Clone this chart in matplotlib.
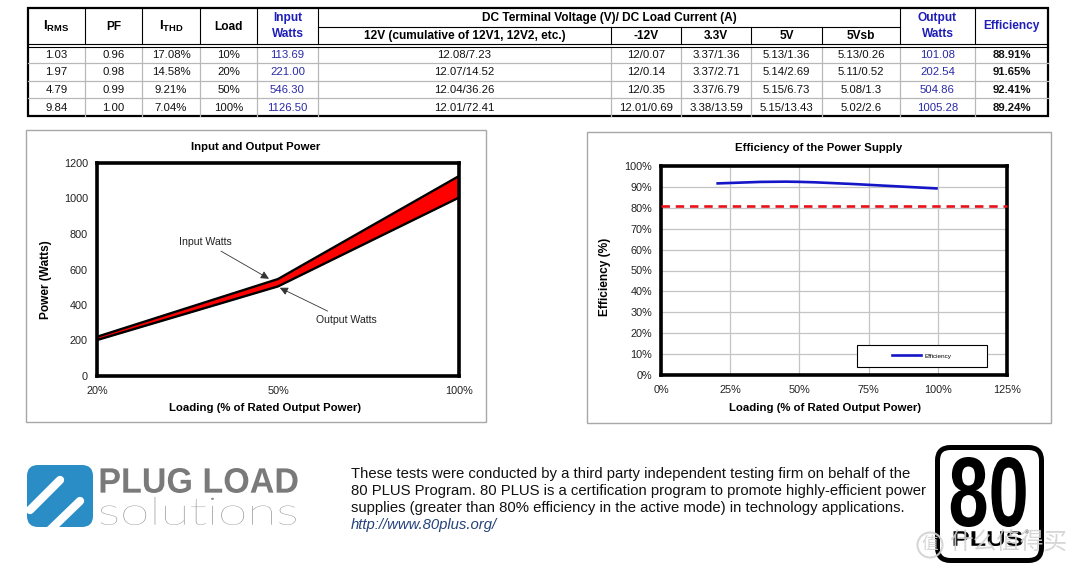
import matplotlib
matplotlib.use('Agg')
import numpy as np
import matplotlib.pyplot as plt
from matplotlib import font_manager as fm
from matplotlib.patches import Rectangle, FancyBboxPatch, PathPatch, Circle
from matplotlib.path import Path
from matplotlib.textpath import TextPath
from matplotlib.lines import Line2D
from matplotlib.patheffects import AbstractPathEffect
from matplotlib.transforms import Affine2D

plt.rcParams['font.family'] = ['Liberation Sans', 'Noto Sans CJK SC', 'DejaVu Sans']
plt.rcParams['mathtext.fontset'] = 'custom'
plt.rcParams['mathtext.rm'] = 'Liberation Sans'
plt.rcParams['mathtext.bf'] = 'Liberation Sans:bold'

# table data
irms = ["1.03", "1.97", "4.79", "9.84"]
pf = ["0.96", "0.98", "0.99", "1.00"]
ithd = ["17.08%", "14.58%", "9.21%", "7.04%"]
load = ["10%", "20%", "50%", "100%"]
input_watts = [113.69, 221.00, 546.30, 1126.50]
v12 = ["12.08/7.23", "12.07/14.52", "12.04/36.26", "12.01/72.41"]
vneg12 = ["12/0.07", "12/0.14", "12/0.35", "12.01/0.69"]
v33 = ["3.37/1.36", "3.37/2.71", "3.37/6.79", "3.38/13.59"]
v5 = ["5.13/1.36", "5.14/2.69", "5.15/6.73", "5.15/13.43"]
v5sb = ["5.13/0.26", "5.11/0.52", "5.08/1.3", "5.02/2.6"]
output_watts = [101.08, 202.54, 504.86, 1005.28]
efficiency = [88.91, 91.65, 92.41, 89.24]

# chart data
chart_loads = ["20%", "50%", "100%"]
chart_input = [221.00, 546.30, 1126.50]
chart_output = [202.54, 504.86, 1005.28]
eff_load = [0.20, 0.50, 1.00]
eff_value = [0.9165, 0.9241, 0.8924]
eff_target = 0.81

note_lines = [
    "These tests were conducted by a third party independent testing firm on behalf of the",
    "80 PLUS Program. 80 PLUS is a certification program to promote highly-efficient power",
    "supplies (greater than 80% efficiency in the active mode) in technology applications.",
]
note_link = "http://www.80plus.org/"

W, H = 1080, 574
fig = plt.figure(figsize=(W / 100, H / 100), dpi=100)
bg = fig.add_axes([0, 0, 1, 1])
bg.set_xlim(0, W)
bg.set_ylim(H, 0)
bg.axis('off')


class Stretch(AbstractPathEffect):
    # horizontal squeeze/stretch of a text around a display x position
    def __init__(self, sx, cx):
        super().__init__()
        self.sx, self.cx = sx, cx

    def draw_path(self, renderer, gc, tpath, affine, rgbFace=None):
        a = affine + Affine2D().translate(-self.cx, 0).scale(self.sx, 1).translate(self.cx, 0)
        renderer.draw_path(gc, tpath, a, rgbFace)


def fit_text(s, x0, y0, x1, y1, prop, **kw):
    # text whose ink fills the pixel box (y0 top, y1 bottom)
    ext = TextPath((0, 0), s, size=1, prop=prop).get_extents()
    k = 100 / 72
    size = (y1 - y0) / (ext.height * k)
    sx = (x1 - x0) / (ext.width * size * k)
    base = y1 + ext.y0 * size * k
    xc = (x0 + x1) / 2
    dx = bg.transData.transform((xc, base))[0]
    bg.text(xc, base, s, fontproperties=prop, fontsize=size, ha='center', va='baseline',
            path_effects=[Stretch(sx, dx)], **kw)


# ---------------- table ----------------
cols = [28, 85, 142, 200, 257, 318, 611, 681, 751, 822, 900, 975, 1048]
top, mid, hbot, bottom = 8, 27, 45.5, 116
row_h = (bottom - hbot) / 4
blue_h = '#1e1eb8'
blue_d = '#2a2aa8'

# data grid
for x in cols[1:-1]:
    bg.plot([x, x], [hbot + 1.5, bottom], color='#b8b8b8', lw=0.9)
for k in range(1, 4):
    y = hbot + k * row_h
    bg.plot([cols[0], cols[-1]], [y, y], color='#b8b8b8', lw=0.9)
# header grid
for i, x in enumerate(cols[1:-1], start=1):
    y_start = mid if 6 <= i <= 9 else top
    bg.plot([x, x], [y_start, hbot - 1.5], color='black', lw=0.8)
bg.plot([cols[5], cols[10]], [mid, mid], color='black', lw=0.8)
bg.plot([cols[0], cols[-1]], [hbot - 1.5, hbot - 1.5], color='black', lw=0.8)
bg.plot([cols[0], cols[-1]], [hbot + 1.5, hbot + 1.5], color='black', lw=0.8)
bg.add_patch(Rectangle((cols[0], top), cols[-1] - cols[0], bottom - top,
                       fill=False, edgecolor='black', lw=1.6))


def cx(i):
    return (cols[i] + cols[i + 1]) / 2


hfs = 8.6
hc = (top + hbot) / 2
bg.text(cx(0), hc, r'$\mathbf{I}_{\mathbf{RMS}}$', fontsize=hfs + 1, ha='center', va='center')
bg.text(cx(1), hc, 'PF', fontsize=hfs, weight='bold', ha='center', va='center')
bg.text(cx(2), hc, r'$\mathbf{I}_{\mathbf{THD}}$', fontsize=hfs + 1, ha='center', va='center')
bg.text(cx(3), hc, 'Load', fontsize=hfs, weight='bold', ha='center', va='center')
bg.text(cx(4), 18.5, 'Input', fontsize=hfs, weight='bold', color=blue_h, ha='center', va='center')
bg.text(cx(4), 34, 'Watts', fontsize=hfs, weight='bold', color=blue_h, ha='center', va='center')
bg.text((cols[5] + cols[10]) / 2, 18, 'DC Terminal Voltage (V)/ DC Load Current (A)',
        fontsize=hfs, weight='bold', ha='center', va='center')
for i, s in zip(range(5, 10), ['12V (cumulative of 12V1, 12V2, etc.)', '-12V', '3.3V', '5V', '5Vsb']):
    bg.text(cx(i), 36, s, fontsize=hfs, weight='bold', ha='center', va='center')
bg.text(cx(10), 18.5, 'Output', fontsize=hfs, weight='bold', color=blue_h, ha='center', va='center')
bg.text(cx(10), 34, 'Watts', fontsize=hfs, weight='bold', color=blue_h, ha='center', va='center')
bg.text(cx(11), 26, 'Efficiency', fontsize=hfs, weight='bold', color=blue_h, ha='center', va='center')

dfs = 8.2
for r in range(4):
    y = hbot + (r + 0.5) * row_h + 0.5
    cells = [irms[r], pf[r], ithd[r], load[r], f"{input_watts[r]:.2f}", v12[r], vneg12[r],
             v33[r], v5[r], v5sb[r], f"{output_watts[r]:.2f}", f"{efficiency[r]:.2f}%"]
    for i, s in enumerate(cells):
        color = blue_d if i in (4, 10) else '#111111'
        weight = 'bold' if i == 11 else 'normal'
        bg.text(cx(i), y, s, fontsize=dfs, color=color, weight=weight, ha='center', va='center')

# ---------------- panel frames ----------------
bg.add_patch(Rectangle((26, 130), 460, 292, fill=False, edgecolor='#a8a8a8', lw=1))
bg.add_patch(Rectangle((587, 132), 464, 291, fill=False, edgecolor='#a8a8a8', lw=1))

# ---------------- left chart ----------------
ax1 = fig.add_axes([97 / W, 1 - 376 / H, (459 - 97) / W, (376 - 163) / H])
xs = np.arange(len(chart_loads))
ax1.fill_between(xs, chart_output, chart_input, color='#ff0000', lw=0)
ax1.plot(xs, chart_input, color='black', lw=1.7)
ax1.plot(xs, chart_output, color='black', lw=1.7)
ax1.set_xlim(0, len(chart_loads) - 1)
ax1.set_ylim(0, 1200)
ax1.set_xticks(xs)
ax1.set_xticklabels(chart_loads)
ax1.set_yticks(range(0, 1201, 200))
for s in ax1.spines.values():
    s.set_linewidth(2.6)
ax1.tick_params(axis='both', length=0, labelsize=7.8, colors='#222222')
ax1.tick_params(axis='y', pad=6.5)
ax1.tick_params(axis='x', pad=7.5)
arrow = dict(arrowstyle='-|>', color='#333333', lw=0.6, mutation_scale=12, shrinkA=2, shrinkB=0)
ax1.annotate('Input Watts', xy=(0.95, 548), xytext=(0.597, 755), fontsize=7.6, color='#222222',
             ha='center', va='center', arrowprops=arrow)
ax1.annotate('Output Watts', xy=(1.01, 497), xytext=(1.376, 315), fontsize=7.6, color='#222222',
             ha='center', va='center', arrowprops=arrow)

bg.text(256, 147, 'Input and Output Power', fontsize=8.2, weight='bold', ha='center', va='center')
bg.text(265, 408, 'Loading (% of Rated Output Power)', fontsize=8.2, weight='bold', ha='center', va='center')
bg.text(46, 280, 'Power (Watts)', fontsize=8.6, weight='bold', rotation=90, ha='center', va='center')

# ---------------- right chart ----------------
ax2 = fig.add_axes([661 / W, 1 - 375 / H, (1007 - 661) / W, (375 - 166) / H])
ax2.set_xlim(0, 1.25)
ax2.set_ylim(0, 1)
ax2.set_xticks(np.arange(0, 1.26, 0.25))
ax2.set_xticklabels([f"{int(round(v * 100))}%" for v in np.arange(0, 1.26, 0.25)])
ax2.set_yticks(np.arange(0, 1.01, 0.1))
ax2.set_yticklabels([f"{int(round(v * 100))}%" for v in np.arange(0, 1.01, 0.1)])
ax2.grid(True, color='#c4c4c4', lw=0.9)
ax2.set_axisbelow(True)
for s in ax2.spines.values():
    s.set_linewidth(2.6)
ax2.tick_params(axis='both', length=0, labelsize=7.8, colors='#222222')
ax2.tick_params(axis='y', pad=6.5)
ax2.tick_params(axis='x', pad=7.5)

# smoothed efficiency curve (bezier through the measured points)
pts = list(zip(eff_load, eff_value))
verts, codes = [pts[0]], [Path.MOVETO]
n = len(pts)
for i in range(n - 1):
    p0, p1, p2, p3 = pts[max(i - 1, 0)], pts[i], pts[i + 1], pts[min(i + 2, n - 1)]
    c1 = (p1[0] + (p2[0] - p0[0]) / 6, p1[1] + (p2[1] - p0[1]) / 6)
    c2 = (p2[0] - (p3[0] - p1[0]) / 6, p2[1] - (p3[1] - p1[1]) / 6)
    verts += [c1, c2, p2]
    codes += [Path.CURVE4] * 3
ax2.add_patch(PathPatch(Path(verts, codes), fill=False, edgecolor='#1515c8', lw=1.9, zorder=3))
ax2.axhline(eff_target, color='#e8101a', lw=1.9, dashes=(3.2, 2.2), zorder=3, clip_on=False)

ax2.add_patch(Rectangle((0.566, 0.038), 0.376, 0.106, transform=ax2.transAxes,
                        facecolor='white', edgecolor='black', lw=0.8, zorder=4))
ax2.legend([Line2D([], [], color='#1515c8', lw=1.9)], ['Efficiency'], loc='center',
           bbox_to_anchor=(0.754, 0.091), frameon=False, fontsize=4.6, handlelength=4.5,
           handletextpad=0.5).set_zorder(5)

bg.text(819, 148, 'Efficiency of the Power Supply', fontsize=8.2, weight='bold', ha='center', va='center')
bg.text(825, 408, 'Loading (% of Rated Output Power)', fontsize=8.2, weight='bold', ha='center', va='center')
bg.text(605, 277, 'Efficiency (%)', fontsize=8.6, weight='bold', rotation=90, ha='center', va='center')

# ---------------- plug load logo ----------------
sq = FancyBboxPatch((27, 465), 66, 62, boxstyle='round,pad=0,rounding_size=11',
                    facecolor='#2b8dc6', edgecolor='none')
bg.add_patch(sq)
for (xa, ya), (xb, yb) in [((30, 510), (60, 480)), ((50, 530), (80, 501))]:
    ln = Line2D([xa, xb], [ya, yb], color='white', lw=6, solid_capstyle='round')
    bg.add_line(ln)
    ln.set_clip_path(sq)
fit_text('PLUG LOAD', 100, 468, 297, 493, fm.FontProperties(family='Liberation Sans', weight='bold'),
         color='#7a7a7a')
fit_text('solutions', 101, 497, 296, 525, fm.FontProperties(family=['Lato', 'DejaVu Sans'], weight='light'),
         color='#8a8a8a')

# ---------------- note text ----------------
for i, line in enumerate(note_lines):
    bg.text(351, 478 + 17 * i, line, fontsize=10.7, color='#111111', ha='left', va='baseline')
bg.text(351, 529, note_link, fontsize=10.7, style='italic', color='#25427a', ha='left', va='baseline')

# ---------------- 80 plus logo ----------------
bg.add_patch(Rectangle((929, 440), 120, 130, facecolor='white', edgecolor='none', zorder=2))
bg.add_patch(FancyBboxPatch((937.5, 447.5), 104, 113, boxstyle='round,pad=0,rounding_size=13',
                            facecolor='white', edgecolor='black', lw=3.6, zorder=3))
fit_text('80', 951, 457, 1026, 527, fm.FontProperties(family='Liberation Sans', weight='bold'),
         color='black', zorder=4)
fit_text('PLUS', 953, 531, 1022, 546, fm.FontProperties(family='Liberation Sans', weight='bold'),
         color='black', zorder=4)
bg.text(1025, 533, '®', fontsize=3.5, color='black', ha='left', va='center', zorder=4)

# watermark
bg.add_patch(Circle((930, 545), 12.5, facecolor='none', edgecolor='#d2d2d2', lw=1.5, zorder=5, alpha=0.9))
bg.text(930, 545, '值', fontsize=12, color='#d2d2d2', ha='center', va='center', zorder=5,
        family=['Noto Sans CJK SC'], alpha=0.9)
bg.text(1008, 543, '什么值得买', fontsize=17, color='#d2d2d2', ha='center', va='center', zorder=5,
        family=['Noto Sans CJK SC'], alpha=0.9)

fig.savefig('out.png', dpi=100)
